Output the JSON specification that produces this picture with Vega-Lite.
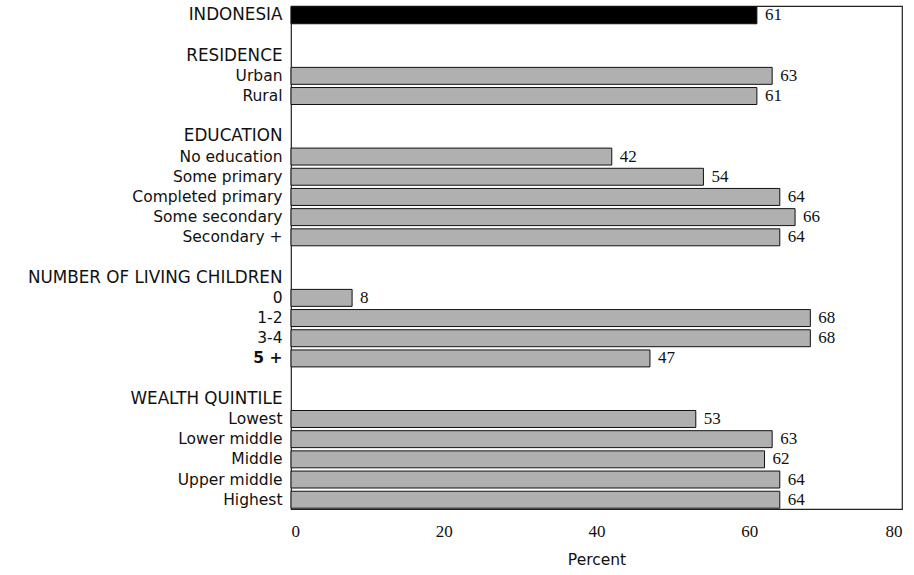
{
  "$schema": "https://vega.github.io/schema/vega-lite/v6.json",
  "width": 611,
  "height": 503,
  "autosize": {"type": "none"},
  "padding": {"left": 291, "top": 6, "right": 12, "bottom": 66},
  "background": "white",
  "config": {
    "view": {"stroke": "#222", "strokeWidth": 1.2},
    "font": "DejaVu Sans"
  },
  "data": {
    "values": [
      {"row": "INDONESIA", "value": 61},
      {"row": " ", "value": null},
      {"row": "RESIDENCE", "value": null},
      {"row": "Urban", "value": 63},
      {"row": "Rural", "value": 61},
      {"row": "  ", "value": null},
      {"row": "EDUCATION", "value": null},
      {"row": "No education", "value": 42},
      {"row": "Some primary", "value": 54},
      {"row": "Completed primary", "value": 64},
      {"row": "Some secondary", "value": 66},
      {"row": "Secondary +", "value": 64},
      {"row": "   ", "value": null},
      {"row": "NUMBER OF LIVING CHILDREN", "value": null},
      {"row": "0", "value": 8},
      {"row": "1-2", "value": 68},
      {"row": "3-4", "value": 68},
      {"row": "5 +", "value": 47},
      {"row": "    ", "value": null},
      {"row": "WEALTH QUINTILE", "value": null},
      {"row": "Lowest", "value": 53},
      {"row": "Lower middle", "value": 63},
      {"row": "Middle", "value": 62},
      {"row": "Upper middle", "value": 64},
      {"row": "Highest", "value": 64}
    ]
  },
  "encoding": {
    "y": {
      "field": "row",
      "type": "nominal",
      "sort": null,
      "scale": {
        "domain": ["INDONESIA", " ", "RESIDENCE", "Urban", "Rural", "  ", "EDUCATION", "No education", "Some primary", "Completed primary", "Some secondary", "Secondary +", "   ", "NUMBER OF LIVING CHILDREN", "0", "1-2", "3-4", "5 +", "    ", "WEALTH QUINTILE", "Lowest", "Lower middle", "Middle", "Upper middle", "Highest"],
        "paddingInner": 0.16,
        "paddingOuter": 0.04
      },
      "axis": {
        "title": null,
        "domain": false,
        "ticks": false,
        "labelPadding": 9,
        "labelFontSize": {"condition": {"test": "indexof(['INDONESIA','RESIDENCE','EDUCATION','NUMBER OF LIVING CHILDREN','WEALTH QUINTILE'], datum.value) >= 0", "value": 16.8}, "value": 15.5},
        "labelColor": "#111",
        "labelFont": "DejaVu Sans",
        "labelFontWeight": {"condition": {"test": "datum.value === '5 +'", "value": "bold"}, "value": "normal"},
        "labelLimit": 400
      }
    },
    "x": {
      "field": "value",
      "type": "quantitative",
      "scale": {"domain": [0, 80], "nice": false},
      "axis": {
        "title": "Percent",
        "values": [0, 20, 40, 60, 80],
        "grid": false,
        "domain": false,
        "ticks": false,
        "labelPadding": 14,
        "labelFontSize": 17,
        "labelFont": "Liberation Serif",
        "labelColor": "#111",
        "titleFontSize": 15.5,
        "titleFontWeight": "normal",
        "titleFont": "DejaVu Sans",
        "titleColor": "#111",
        "titlePadding": 13
      }
    }
  },
  "layer": [
    {
      "mark": {"type": "bar", "stroke": "#111", "strokeWidth": 1},
      "encoding": {
        "fill": {"condition": {"test": "datum.row === 'INDONESIA'", "value": "#000"}, "value": "#b0b0b0"}
      }
    },
    {
      "mark": {"type": "text", "align": "left", "baseline": "middle", "dx": 8, "fontSize": 17, "font": "Liberation Serif", "color": "#111"},
      "encoding": {
        "text": {"field": "value", "type": "quantitative"}
      }
    }
  ]
}
